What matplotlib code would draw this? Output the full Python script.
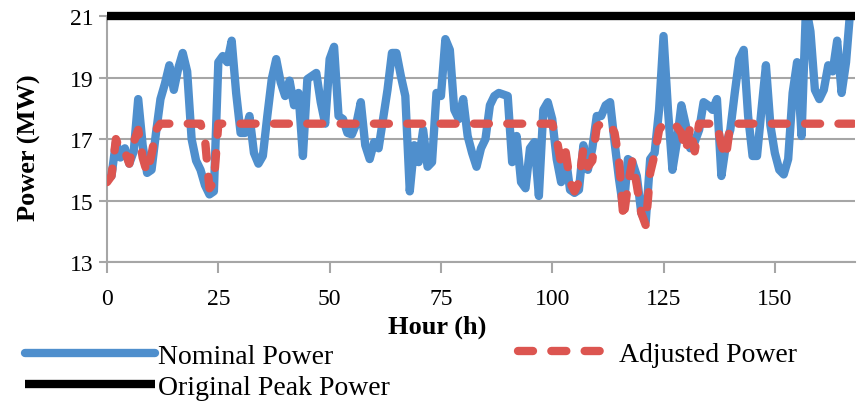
import numpy as np
import matplotlib.pyplot as plt

plt.rcParams['font.family'] = ['Liberation Serif', 'DejaVu Serif']

hours = np.arange(0, 169)

# Nominal power (MW), read hour by hour from the picture
nominal = [
    15.7, 15.8, 16.9, 16.4, 16.7, 16.2, 16.6, 18.3, 16.8, 15.9,
    16.0, 17.2, 18.3, 18.8, 19.4, 18.6, 19.3, 19.8, 19.2, 17.0,
    16.3, 16.0, 15.5, 15.2, 15.3, 19.5, 19.7, 19.5, 20.2, 18.5,
    17.2, 17.2, 17.75, 16.55, 16.2, 16.45, 17.75, 18.95, 19.6, 18.85,
    18.4, 18.9, 18.1, 18.5, 16.45, 18.95, 19.05, 19.15, 18.2, 17.5,
    19.6, 20.0, 17.75, 17.65, 17.2, 17.15, 17.5, 18.2, 16.8, 16.35,
    16.9, 16.7, 17.65, 18.6, 19.8, 19.8, 19.05, 18.4, 15.3, 16.8,
    16.25, 17.3, 16.1, 16.25, 18.5, 18.4, 20.25, 19.9, 17.95, 17.65,
    18.3, 17.1, 16.55, 16.1, 16.7, 17.0, 18.1, 18.4, 18.5, 18.45,
    18.4, 16.25, 17.1, 15.6, 15.4, 16.7, 16.9, 15.15, 17.95, 18.2,
    17.65, 16.35, 15.6, 16.45, 15.35, 15.25, 15.35, 16.8, 16.0, 16.7,
    17.75, 17.75, 18.1, 18.2, 16.9, 15.7, 14.7, 16.35, 16.25, 15.8,
    14.6, 14.3, 16.35, 16.55, 17.95, 20.35, 17.95, 16.0, 16.9, 18.1,
    17.45, 16.7, 16.9, 17.3, 18.2, 18.1, 17.95, 18.3, 15.8, 16.8,
    17.3, 18.5, 19.6, 19.9, 17.75, 16.45, 16.45, 17.95, 19.4, 17.45,
    16.55, 16.0, 15.85, 16.35, 18.5, 19.5, 17.1, 21.3, 20.5, 18.6,
    18.3, 18.6, 19.4, 19.2, 20.2, 18.5, 19.5, 21.3, 21.5,
]

# Adjusted power (MW)
adjusted = [
    15.6, 15.8, 17.0, 16.6, 16.6, 16.2, 16.9, 17.3, 16.4, 15.9,
    16.5, 17.3, 17.5, 17.5, 17.5, 17.5, 17.5, 17.5, 17.5, 17.5,
    17.5, 17.5, 17.0, 15.4, 15.6, 17.5, 17.5, 17.5, 17.5, 17.5,
    17.5, 17.5, 17.5, 17.5, 17.5, 17.5, 17.5, 17.5, 17.5, 17.5,
    17.5, 17.5, 17.5, 17.5, 17.5, 17.5, 17.5, 17.5, 17.5, 17.5,
    17.5, 17.5, 17.5, 17.5, 17.5, 17.5, 17.5, 17.5, 17.5, 17.5,
    17.5, 17.5, 17.5, 17.5, 17.5, 17.5, 17.5, 17.5, 17.5, 17.5,
    17.5, 17.5, 17.5, 17.5, 17.5, 17.5, 17.5, 17.5, 17.5, 17.5,
    17.5, 17.5, 17.5, 17.5, 17.5, 17.5, 17.5, 17.5, 17.5, 17.5,
    17.5, 17.5, 17.5, 17.5, 17.5, 17.5, 17.5, 17.5, 17.5, 17.5,
    17.5, 17.0, 16.2, 16.6, 15.6, 15.3, 15.6, 16.7, 16.1, 16.3,
    17.4, 17.5, 17.5, 17.5, 17.2, 16.3, 14.4, 15.5, 16.3, 15.5,
    14.6, 14.2, 15.9, 16.5, 17.3, 17.5, 17.5, 17.5, 17.4, 17.2,
    16.6, 17.4, 16.6, 17.5, 17.5, 17.5, 17.5, 17.5, 16.8, 16.4,
    17.5, 17.5, 17.5, 17.5, 17.5, 17.5, 17.5, 17.5, 17.5, 17.5,
    17.5, 17.5, 17.5, 17.5, 17.5, 17.5, 17.5, 17.5, 17.5, 17.5,
    17.5, 17.5, 17.5, 17.5, 17.5, 17.5, 17.5, 17.5, 17.5,
]

original_peak = 21.0

x_ticks = [0, 25, 50, 75, 100, 125, 150]
y_ticks = [13, 15, 17, 19, 21]

grey = '#a6a6a6'
lw = 6

fig = plt.figure(figsize=(8.59, 4.06), dpi=100)
ax = fig.add_axes([0.1246, 0.352, 0.8707, 0.606])

l_nom, = ax.plot(hours, nominal, color='#4f8fcd', linewidth=lw, solid_joinstyle='round',
                 solid_capstyle='round', label='Nominal Power', zorder=3)
l_adj, = ax.plot(hours, adjusted, color='#dc5550', linewidth=lw, linestyle=(0, (1.8, 2.2)),
                 dash_capstyle='round', label='Adjusted Power', zorder=4)
l_peak, = ax.plot([hours[0], hours[-1]], [original_peak, original_peak], color='black',
                  linewidth=lw, solid_capstyle='butt', label='Original Peak Power',
                  clip_on=False, zorder=5)

ax.set_xlim(0, 168)
ax.set_ylim(13, 21)
ax.set_xticks(x_ticks)
ax.set_yticks(y_ticks)
ax.grid(axis='y', color=grey, linewidth=1.5)
ax.set_axisbelow(True)
for s in ['top', 'right']:
    ax.spines[s].set_visible(False)
for s in ['left', 'bottom']:
    ax.spines[s].set_color(grey)
    ax.spines[s].set_linewidth(1.5)
ax.tick_params(axis='x', direction='out', length=8, width=1.5, color=grey, labelsize=17, pad=11)
ax.tick_params(axis='y', direction='out', length=6, width=1.5, color=grey, labelsize=17, pad=4)

ax.set_xlabel('Hour (h)', fontsize=19, fontweight='bold')
ax.xaxis.set_label_coords(0.441, -0.215)
ax.set_ylabel('Power (MW)', fontsize=19, fontweight='bold')
ax.yaxis.set_label_coords(-0.088, 0.47)

fig.legend(handles=[l_nom, l_peak], loc='center left', bbox_to_anchor=(0.029, 0.082),
           ncol=1, frameon=False, fontsize=20, handlelength=4.7, handletextpad=0.1,
           labelspacing=0.2, borderaxespad=0, borderpad=0)
fig.legend(handles=[l_adj], loc='center left', bbox_to_anchor=(0.603, 0.1256),
           frameon=False, fontsize=20, handlelength=3.3, handletextpad=0.35,
           borderaxespad=0, borderpad=0)

fig.savefig('out.png', dpi=100)
